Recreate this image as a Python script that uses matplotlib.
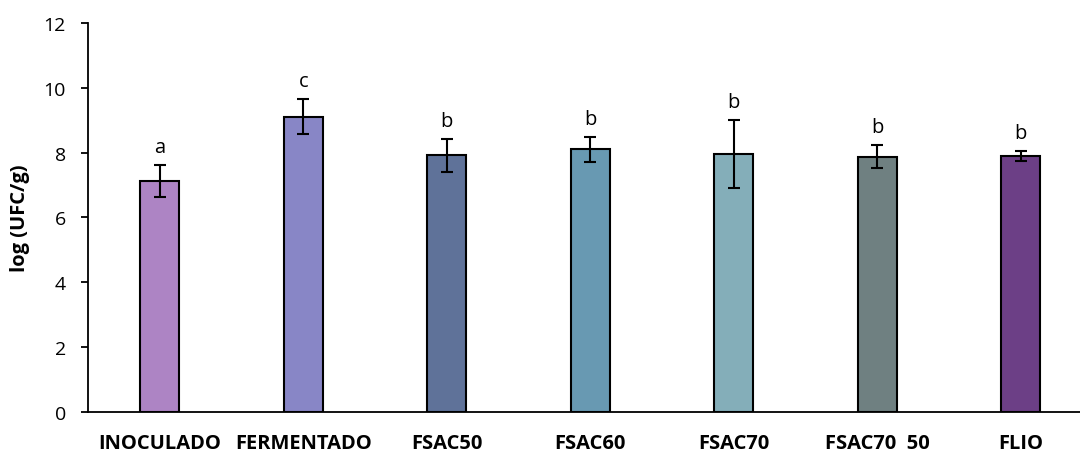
import matplotlib
matplotlib.use("Agg")
import matplotlib.pyplot as plt

categories = ["INOCULADO", "FERMENTADO", "FSAC50", "FSAC60", "FSAC70", "FSAC70  50", "FLIO"]
means = [7.12, 9.10, 7.91, 8.10, 7.95, 7.87, 7.90]
errors = [0.50, 0.54, 0.51, 0.38, 1.04, 0.36, 0.16]
letters = ["a", "c", "b", "b", "b", "b", "b"]
colors = ["#AD84C4", "#8886C6", "#5F7299", "#6899B2", "#84AEB9", "#6F8081", "#6C3F86"]
yticks = [0, 2, 4, 6, 8, 10, 12]

plt.rcParams["font.family"] = ["Open Sans", "DejaVu Sans"]

fig = plt.figure(figsize=(10.8, 4.52), dpi=100)
ax = fig.add_axes([88 / 1080, 39.3 / 452, 1004.5 / 1080, 388.7 / 452])

x = list(range(len(categories)))
ax.bar(x, means, width=0.275, color=colors, edgecolor="black", linewidth=1.5, zorder=2)
ax.errorbar(x, means, yerr=errors, fmt="none", ecolor="black", elinewidth=1.5,
            capsize=4.5, capthick=1.5, zorder=3)

for xi, m, e, lab in zip(x, means, errors, letters):
    ax.text(xi, m + e + 0.25, lab, ha="center", va="bottom", fontsize=14.5, color="black")

ax.set_xlim(-0.5, len(categories) - 0.5)
ax.set_ylim(0, 12)
ax.set_yticks(yticks)
ax.set_xticks(x)
ax.set_xticklabels(categories, fontsize=14.5, fontweight="bold")
ax.tick_params(axis="x", length=0, pad=15)
ax.tick_params(axis="y", length=5, width=1.3, direction="out", pad=11, labelsize=14)

for side in ("top", "right"):
    ax.spines[side].set_visible(False)
ax.spines["left"].set_linewidth(1.3)
ax.spines["bottom"].set_linewidth(1.3)

ax.set_ylabel("log (UFC/g)", fontsize=14.5, fontweight="bold", labelpad=10)

fig.savefig("out.png", dpi=100)
